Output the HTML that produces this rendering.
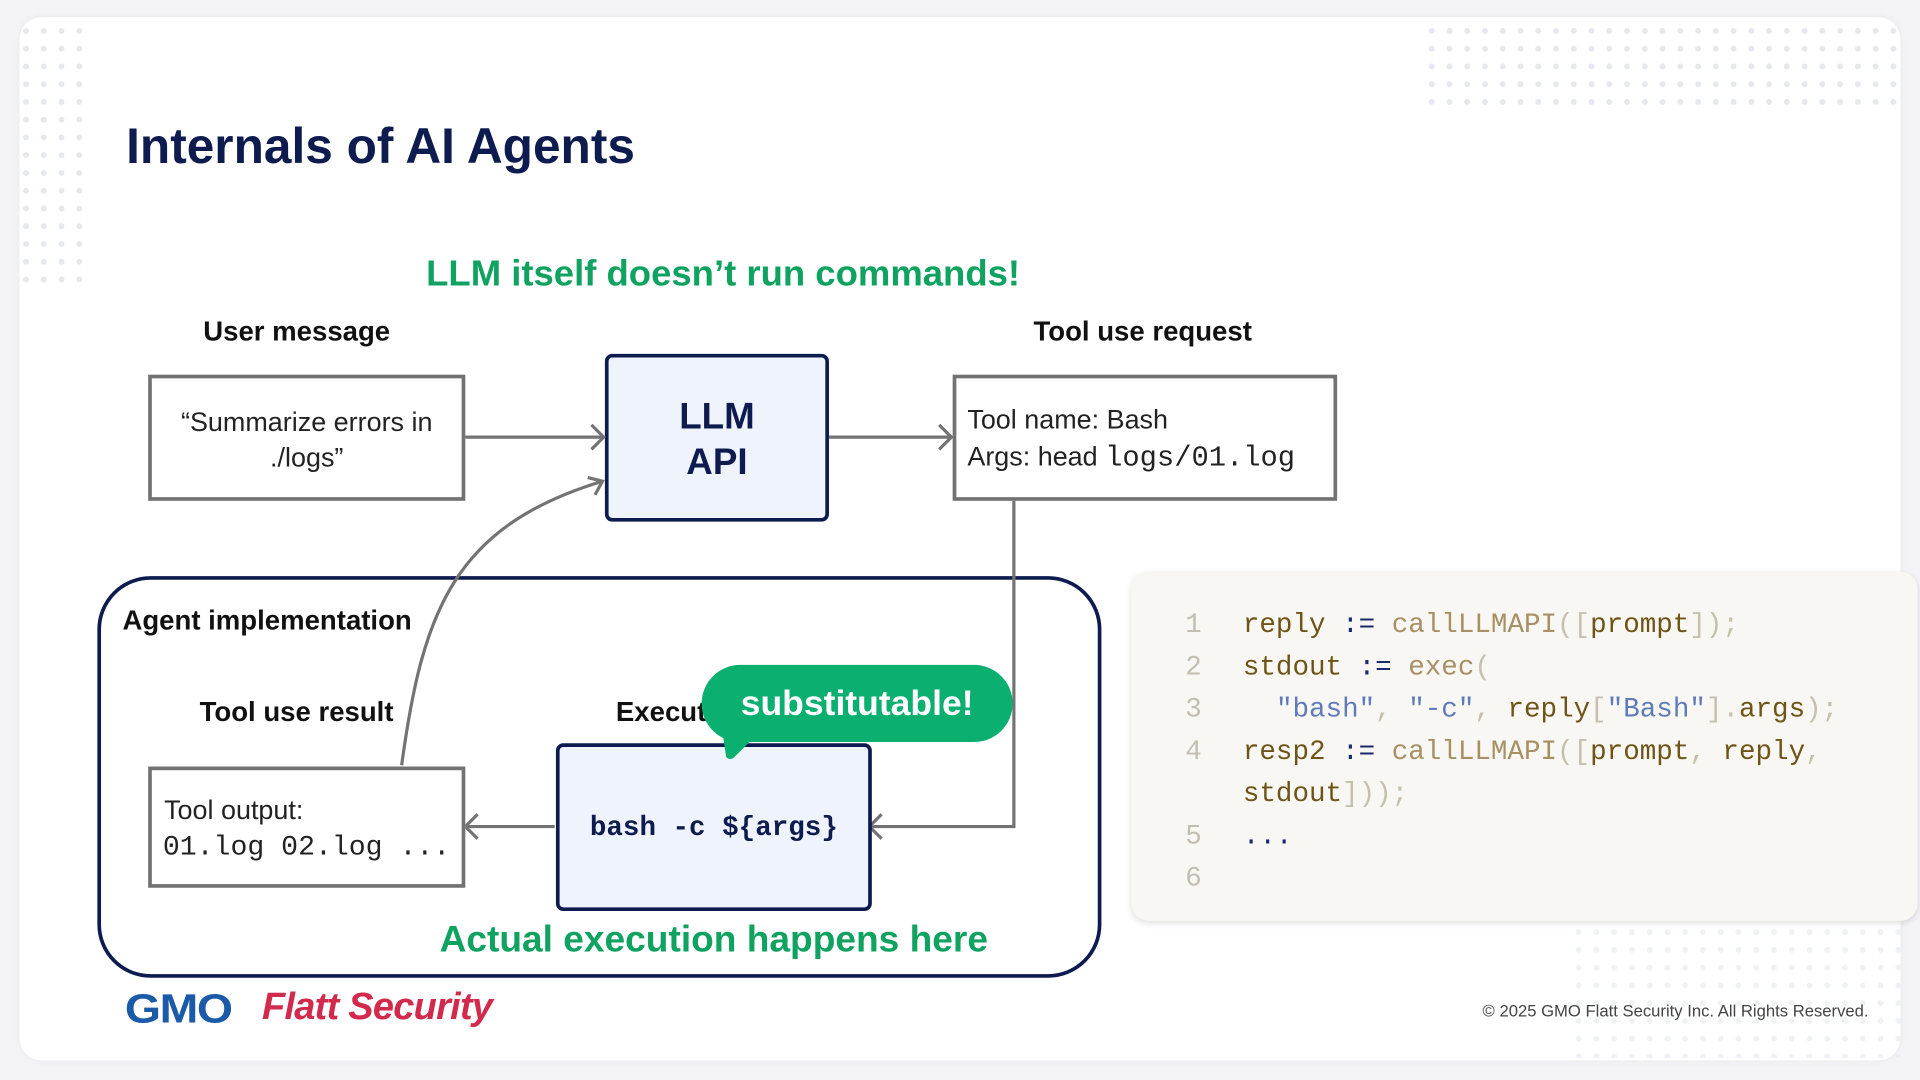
<!DOCTYPE html>
<html><head><meta charset="utf-8"><style>
html,body{margin:0;padding:0;background:#f4f4f6;width:1920px;height:1080px;overflow:hidden}
#s{position:absolute;left:0;top:0;width:1568px;height:882px;transform:scale(1.22449);transform-origin:0 0;font-family:"Liberation Sans",sans-serif}
.card{position:absolute;left:16px;top:14px;width:1536px;height:852px;background:#fff;border-radius:18px;box-shadow:0 0 6px rgba(0,0,0,.05)}
.t{position:absolute;white-space:nowrap}
.b{font-weight:bold}
.mono{font-family:"Liberation Mono",monospace}
.box{position:absolute;box-sizing:border-box;border:3px solid #727272;background:#fff}
.nb{position:absolute;box-sizing:border-box;border:3px solid #0d1b4f;background:#eff3fb;border-radius:6px}
.code div{position:absolute;left:0;white-space:pre;font-family:"Liberation Mono",monospace;font-size:22.5px}
.ln{color:#c3beb2}.id{color:#6e5416}.fn{color:#a89065}.op{color:#1a2a70}.st{color:#5f7bb8}.p{color:#c7bfae}
.dots{position:absolute;background-image:radial-gradient(circle,#e6e8ee 2.2px,transparent 2.6px);background-size:14.5px 14.5px}
</style></head><body><div id="s">
<div class="card"></div>
<div class="dots" style="left:14px;top:18px;width:62px;height:218px"></div>
<div class="dots" style="left:1162px;top:18px;width:392px;height:76px"></div>
<div class="dots" style="left:1282px;top:754px;width:270px;height:110px;opacity:.6"></div>

<div class="t b" style="left:103px;top:96px;font-size:40.5px;color:#0d1b4f">Internals of AI Agents</div>
<div class="t b" style="left:348px;top:207px;font-size:29.8px;color:#10a260">LLM itself doesn’t run commands!</div>
<div class="t b" style="left:166px;top:258px;font-size:22.5px;color:#111">User message</div>
<div class="t b" style="left:844px;top:258px;font-size:22.5px;color:#111">Tool use request</div>

<div class="box" style="left:121px;top:306px;width:259px;height:103px"></div>
<div class="t" style="left:121px;top:330px;width:259px;text-align:center;font-size:22px;color:#222;line-height:29px;white-space:normal">“Summarize errors in<br>./logs”</div>

<div class="nb" style="left:494px;top:289px;width:183px;height:137px"></div>
<div class="t b" style="left:494px;top:322px;width:183px;text-align:center;font-size:30px;line-height:37px;color:#0d1b4f">LLM<br>API</div>

<div class="box" style="left:778px;top:306px;width:314px;height:103px"></div>
<div class="t" style="left:790px;top:330px;font-size:22px;color:#222">Tool name: Bash</div>
<div class="t" style="left:790px;top:360px;font-size:22px;color:#222">Args: head <span class="mono" style="font-size:23.5px">logs/01.log</span></div>

<svg style="position:absolute;left:0;top:0" width="1568" height="882">
<rect x="81" y="472" width="817" height="325" rx="42" fill="none" stroke="#0d1b4f" stroke-width="3"/>
<g fill="none" stroke="#737373" stroke-width="2.6">
<line x1="380" y1="357" x2="492" y2="357"/><polyline points="483,347 493,357 483,367"/>
<line x1="677" y1="357" x2="776" y2="357"/><polyline points="767,347 777,357 767,367"/>
<polyline points="828,409 828,675 712,675"/><polyline points="720,665 710,675 720,685"/>
<line x1="453" y1="675" x2="382" y2="675"/><polyline points="390,665 380,675 390,685"/>
<path d="M328 625 C 345 500, 370 430, 492 393"/><polyline points="480,390 492,393 486,404"/>
</g>
</svg>

<div class="t b" style="left:100px;top:494px;font-size:22.5px;color:#111">Agent implementation</div>
<div class="t b" style="left:163px;top:569px;font-size:22.5px;color:#111">Tool use result</div>
<div class="t b" style="left:503px;top:569px;font-size:22.5px;color:#111">Execution</div>

<div class="box" style="left:121px;top:626px;width:259px;height:99px"></div>
<div class="t" style="left:134px;top:649px;font-size:22px;color:#222">Tool output:</div>
<div class="t mono" style="left:133px;top:679px;font-size:23px;color:#222">01.log 02.log ...</div>

<div class="nb" style="left:454px;top:607px;width:258px;height:137px"></div>
<div class="t mono b" style="left:454px;top:663px;width:258px;text-align:center;font-size:22.5px;color:#0d1b4f">bash -c ${args}</div>

<div style="position:absolute;left:573px;top:543px;width:254px;height:63px;border-radius:32px;background:#0baf6f"></div>
<svg style="position:absolute;left:585px;top:598px" width="40" height="24"><path d="M5 0 L8 20 Q10 23 14 21 L35 0Z" fill="#0baf6f"/></svg>
<div class="t b" style="left:573px;top:559px;width:254px;text-align:center;font-size:29px;color:#fff">substitutable!</div>

<div class="t b" style="left:359px;top:751px;font-size:30.3px;color:#10a260">Actual execution happens here</div>

<div style="position:absolute;left:924px;top:467px;width:642px;height:285px;background:#f8f7f3;border-radius:14px;box-shadow:0 2px 5px rgba(0,0,0,.12)"></div>
<div class="code" style="position:absolute;left:0;top:3px">
<div class="ln" style="left:968px;top:494px">1</div>
<div style="left:1015px;top:494px"><span class="id">reply</span> <span class="op">:=</span> <span class="fn">callLLMAPI</span><span class="p">([</span><span class="id">prompt</span><span class="p">]);</span></div>
<div class="ln" style="left:968px;top:529px">2</div>
<div style="left:1015px;top:529px"><span class="id">stdout</span> <span class="op">:=</span> <span class="fn">exec</span><span class="p">(</span></div>
<div class="ln" style="left:968px;top:563px">3</div>
<div style="left:1015px;top:563px">  <span class="st">"bash"</span><span class="p">,</span> <span class="st">"-c"</span><span class="p">,</span> <span class="id">reply</span><span class="p">[</span><span class="st">"Bash"</span><span class="p">].</span><span class="id">args</span><span class="p">);</span></div>
<div class="ln" style="left:968px;top:598px">4</div>
<div style="left:1015px;top:598px"><span class="id">resp2</span> <span class="op">:=</span> <span class="fn">callLLMAPI</span><span class="p">([</span><span class="id">prompt</span><span class="p">,</span> <span class="id">reply</span><span class="p">,</span></div>
<div style="left:1015px;top:632px"><span class="id">stdout</span><span class="p">]));</span></div>
<div class="ln" style="left:968px;top:667px">5</div>
<div class="op" style="left:1015px;top:667px">...</div>
<div class="ln" style="left:968px;top:701px">6</div>
</div>

<div class="t b" style="left:102px;top:805px;font-size:33px;color:#1a5aa8;letter-spacing:-1px;transform:scaleX(1.15);transform-origin:0 0">GMO</div>
<div class="t b" style="left:214px;top:804px;font-size:31px;color:#d22a4c;font-style:italic;letter-spacing:-0.6px">Flatt Security</div>
<div class="t" style="right:42px;top:818px;font-size:13.6px;color:#444">© 2025 GMO Flatt Security Inc. All Rights Reserved.</div>
</div></body></html>
